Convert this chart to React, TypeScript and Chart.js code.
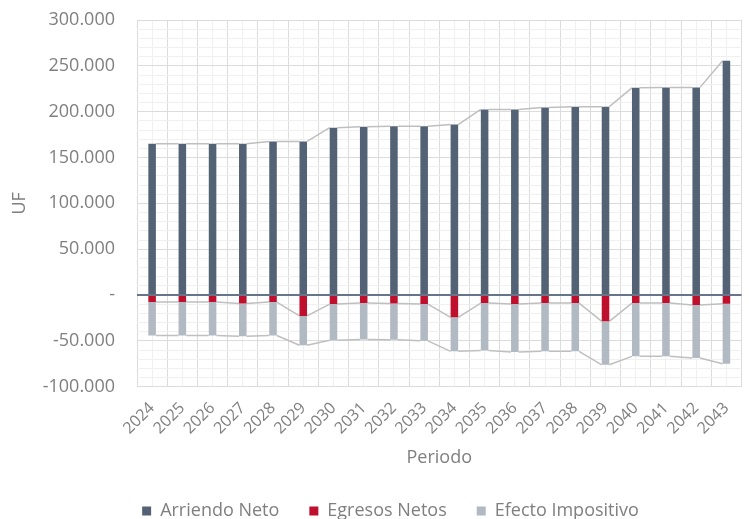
import React, { useEffect, useRef } from "react";
import { Chart, registerables } from "chart.js";

Chart.register(...registerables);

const years = ["2024","2025","2026","2027","2028","2029","2030","2031","2032","2033","2034","2035","2036","2037","2038","2039","2040","2041","2042","2043"];
const arriendoNeto = [165000,165000,165000,165000,167500,167500,182500,183500,184000,184000,186000,202500,202500,204500,205500,205500,226000,226500,226500,255500];
const egresosNetos = [-7700,-7700,-7700,-9200,-7700,-22800,-9900,-8800,-9200,-9900,-24300,-8800,-9900,-8800,-8800,-28700,-8800,-8800,-11000,-9500];
const efectoImpositivo = [-36400,-36400,-36400,-35700,-36400,-32000,-39400,-39700,-39600,-40100,-37100,-51800,-52200,-52600,-52600,-47400,-58100,-58100,-57700,-65500];

const FONT = "'Open Sans', sans-serif";
const TEXT = "#7f7f7f";

function fmt(v: number): string {
  if (v === 0) return "-";
  const s = Math.abs(v).toString().replace(/\B(?=(\d{3})+(?!\d))/g, ".");
  return (v < 0 ? "-" : "") + s;
}

const seriesLines = {
  id: "seriesLines",
  beforeDatasetsDraw(chart: any) {
    const ctx = chart.ctx;
    ctx.save();
    ctx.strokeStyle = "#bfbfbf";
    ctx.lineWidth = 1.5;
    chart.data.datasets.forEach((_: any, i: number) => {
      const els = chart.getDatasetMeta(i).data;
      ctx.beginPath();
      for (let j = 0; j < els.length - 1; j++) {
        const a = els[j].getProps(["x", "y", "width"], true);
        const b = els[j + 1].getProps(["x", "y", "width"], true);
        ctx.moveTo(a.x + a.width / 2, a.y);
        ctx.lineTo(b.x - b.width / 2, b.y);
      }
      ctx.stroke();
    });
    ctx.restore();
  },
};

export default function App() {
  const ref = useRef<HTMLCanvasElement>(null);
  useEffect(() => {
    document.body.style.margin = "0";
    const chart = new Chart(ref.current!, {
      type: "bar",
      data: {
        labels: years,
        datasets: [
          { label: "Arriendo Neto", data: arriendoNeto, backgroundColor: "#536375" },
          { label: "Egresos Netos", data: egresosNetos, backgroundColor: "#be0f2c" },
          { label: "Efecto Impositivo", data: efectoImpositivo, backgroundColor: "#b1b9c2" },
        ],
      },
      options: {
        animation: false,
        responsive: true,
        maintainAspectRatio: false,
        datasets: { bar: { barPercentage: 0.25, categoryPercentage: 1 } },
        layout: { padding: { top: 20, right: 0, left: 29, bottom: -11 } },
        plugins: {
          tooltip: { enabled: false },
          legend: {
            position: "bottom",
            labels: { color: TEXT, font: { family: FONT, size: 18 }, boxWidth: 9, boxHeight: 9, padding: 30 },
          },
        },
        scales: {
          x: {
            stacked: true,
            offset: true,
            afterFit: (s: any) => { s.height = 85.3; },
            grid: { offset: true, color: "#dcdcdc", drawTicks: false },
            border: { display: false },
            ticks: { color: TEXT, font: { family: FONT, size: 16 }, minRotation: 45, maxRotation: 45, autoSkip: false, padding: 12 },
            title: { display: true, text: "Periodo", color: TEXT, font: { family: FONT, size: 18 }, padding: { top: 0, bottom: 3 } },
          },
          x2: {
            type: "category",
            labels: years,
            position: "bottom",
            offset: true,
            afterFit: (s: any) => { s.height = 0; },
            grid: { offset: false, color: "#f0f0f0", drawTicks: false },
            border: { display: false },
            ticks: { display: false },
          },
          y: {
            stacked: true,
            min: -100000,
            max: 300000,
            afterFit: (s: any) => { s.width = 108; },
            border: { display: false },
            grid: {
              drawTicks: true,
              tickLength: 22,
              tickColor: "rgba(0,0,0,0)",
              color: (c: any) => {
                const v = c.tick.value;
                if (v === 0) return "#66768a";
                return v % 50000 === 0 ? "#dcdcdc" : "#f0f0f0";
              },
              lineWidth: (c: any) => (c.tick.value === 0 ? 2 : 1),
            },
            ticks: {
              stepSize: 10000,
              autoSkip: false,
              padding: 0,
              color: TEXT,
              font: { family: FONT, size: 18 },
              callback: (v: any) => (Number(v) % 50000 === 0 ? fmt(Number(v)) : ""),
            },
            title: { display: true, text: "UF", color: TEXT, font: { family: FONT, size: 18 }, padding: { top: -20, bottom: 0 } },
          },
        },
      },
      plugins: [seriesLines],
    } as any);
    return () => chart.destroy();
  }, []);
  return (
    <div style={{ width: 749, height: 519, overflow: "hidden" }}>
      <div style={{ width: 752, height: 519, position: "relative" }}>
        <canvas ref={ref} />
      </div>
    </div>
  );
}
